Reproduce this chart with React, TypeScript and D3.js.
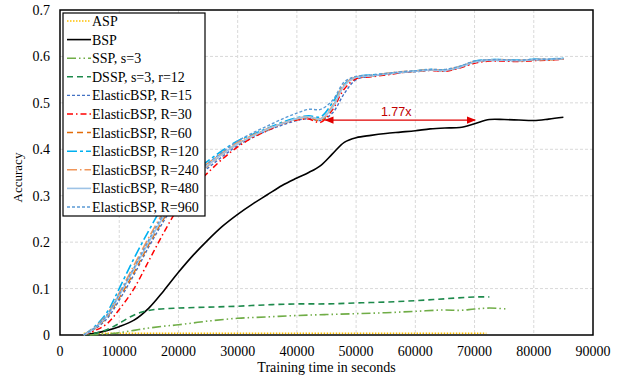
import React from 'react';
import * as d3 from 'd3';

// time axis (seconds) shared by the ElasticBSP and BSP runs
const times = [4000, 6000, 8000, 10000, 12500, 15000, 17500, 20000, 22500, 25000, 27500, 30000, 32500, 35000, 37500, 40000, 42000, 44000, 46000, 48000, 50000, 52500, 55000, 57500, 60000, 62500, 65000, 67500, 70000, 72500, 75000, 77500, 80000, 82500, 85000];

const bsp = [0, 0.004, 0.01, 0.018, 0.032, 0.058, 0.095, 0.135, 0.172, 0.205, 0.235, 0.26, 0.282, 0.302, 0.322, 0.338, 0.35, 0.365, 0.39, 0.415, 0.425, 0.43, 0.434, 0.437, 0.44, 0.444, 0.446, 0.447, 0.455, 0.464, 0.464, 0.463, 0.462, 0.465, 0.469];

const r15 = [0, 0.014, 0.036, 0.075, 0.13, 0.19, 0.245, 0.295, 0.335, 0.36, 0.385, 0.408, 0.425, 0.44, 0.452, 0.462, 0.466, 0.462, 0.478, 0.52, 0.55, 0.557, 0.561, 0.565, 0.567, 0.57, 0.569, 0.576, 0.587, 0.591, 0.591, 0.59, 0.592, 0.593, 0.594];
const r30 = [0, 0.01, 0.025, 0.055, 0.1, 0.16, 0.22, 0.275, 0.32, 0.35, 0.38, 0.405, 0.425, 0.44, 0.455, 0.463, 0.465, 0.458, 0.485, 0.53, 0.552, 0.556, 0.56, 0.565, 0.568, 0.57, 0.568, 0.575, 0.585, 0.59, 0.59, 0.589, 0.591, 0.592, 0.594];
const r60 = [0, 0.015, 0.04, 0.08, 0.135, 0.195, 0.25, 0.3, 0.34, 0.365, 0.39, 0.412, 0.428, 0.442, 0.455, 0.465, 0.469, 0.462, 0.49, 0.538, 0.555, 0.558, 0.562, 0.566, 0.568, 0.571, 0.57, 0.577, 0.588, 0.592, 0.592, 0.591, 0.593, 0.593, 0.595];
const r120 = [0, 0.02, 0.05, 0.1, 0.165, 0.225, 0.28, 0.32, 0.35, 0.375, 0.398, 0.418, 0.432, 0.445, 0.458, 0.468, 0.472, 0.47, 0.5, 0.54, 0.556, 0.56, 0.563, 0.566, 0.569, 0.572, 0.571, 0.578, 0.59, 0.593, 0.593, 0.592, 0.594, 0.594, 0.596];
const r240 = [0, 0.018, 0.045, 0.09, 0.15, 0.21, 0.265, 0.31, 0.345, 0.37, 0.393, 0.415, 0.43, 0.444, 0.456, 0.466, 0.47, 0.466, 0.493, 0.54, 0.556, 0.559, 0.563, 0.567, 0.569, 0.572, 0.571, 0.578, 0.589, 0.592, 0.593, 0.591, 0.593, 0.594, 0.595];
const r480 = [0, 0.016, 0.042, 0.085, 0.142, 0.2, 0.255, 0.302, 0.34, 0.366, 0.39, 0.412, 0.428, 0.443, 0.455, 0.466, 0.47, 0.465, 0.49, 0.537, 0.555, 0.558, 0.562, 0.566, 0.568, 0.571, 0.57, 0.577, 0.588, 0.592, 0.592, 0.591, 0.593, 0.594, 0.595];
const r960 = [0, 0.017, 0.044, 0.088, 0.145, 0.205, 0.26, 0.305, 0.345, 0.37, 0.395, 0.418, 0.435, 0.45, 0.465, 0.478, 0.486, 0.486, 0.505, 0.545, 0.557, 0.56, 0.563, 0.567, 0.569, 0.572, 0.572, 0.579, 0.59, 0.593, 0.593, 0.592, 0.594, 0.594, 0.596];

const aspTimes = [4000, 20000, 40000, 60000, 72000];
const asp = [0.004, 0.004, 0.004, 0.004, 0.004];

const sspTimes = [5000, 7500, 10000, 12500, 15000, 17500, 20000, 25000, 30000, 35000, 40000, 45000, 50000, 55000, 60000, 65000, 67500, 70000, 72500, 75500];
const ssp = [0, 0.002, 0.005, 0.01, 0.015, 0.019, 0.022, 0.03, 0.036, 0.039, 0.042, 0.044, 0.046, 0.048, 0.051, 0.054, 0.053, 0.056, 0.058, 0.056];

const dsspTimes = [4000, 6000, 8000, 10000, 12000, 14000, 16000, 20000, 25000, 30000, 35000, 40000, 45000, 50000, 55000, 60000, 65000, 70000, 72500];
const dssp = [0, 0.004, 0.012, 0.025, 0.04, 0.05, 0.055, 0.058, 0.06, 0.062, 0.065, 0.067, 0.067, 0.069, 0.071, 0.074, 0.078, 0.082, 0.082];

const xTicks = [0, 10000, 20000, 30000, 40000, 50000, 60000, 70000, 80000, 90000];
const yTicks = [0, 0.1, 0.2, 0.3, 0.4, 0.5, 0.6, 0.7];

const speedup = { label: '1.77x', from: 44800, to: 70100, y: 0.463 };

const series = [
  { name: 'ASP', x: aspTimes, y: asp, color: '#ffc000', dash: '1.5,1.5', width: 1.5 },
  { name: 'BSP', x: times, y: bsp, color: '#000000', dash: null, width: 1.6 },
  { name: 'SSP, s=3', x: sspTimes, y: ssp, color: '#70ad47', dash: '9,3,1.5,3,1.5,3', width: 1.6 },
  { name: 'DSSP, s=3, r=12', x: dsspTimes, y: dssp, color: '#1e8a4c', dash: '6,4', width: 1.6 },
  { name: 'ElasticBSP, R=15', x: times, y: r15, color: '#4472c4', dash: '3,2', width: 1.4 },
  { name: 'ElasticBSP, R=30', x: times, y: r30, color: '#ff0000', dash: '6,3,1.5,3', width: 1.5 },
  { name: 'ElasticBSP, R=60', x: times, y: r60, color: '#e36c0a', dash: '6,4', width: 1.5 },
  { name: 'ElasticBSP, R=120', x: times, y: r120, color: '#00b0f0', dash: '10,3,3,3', width: 1.6 },
  { name: 'ElasticBSP, R=240', x: times, y: r240, color: '#f0965a', dash: '10,3,1.5,3', width: 1.6 },
  { name: 'ElasticBSP, R=480', x: times, y: r480, color: '#9dc3e6', dash: null, width: 1.6 },
  { name: 'ElasticBSP, R=960', x: times, y: r960, color: '#5b9bd5', dash: '3,2', width: 1.4 },
];

const W = 626;
const H = 379;
const plot = { left: 60, right: 593, top: 10, bottom: 335 };
const serif = '"Liberation Serif", "Times New Roman", serif';

const App = () => {
  const x = d3.scaleLinear().domain([0, 90000]).range([plot.left, plot.right]);
  const y = d3.scaleLinear().domain([0, 0.7]).range([plot.bottom, plot.top]);

  const line = (xs: number[], ys: number[]) =>
    d3.line<number>()
      .x((_, i) => x(xs[i]))
      .y((d) => y(d))
      .curve(d3.curveCatmullRom.alpha(0.5))(ys) || '';

  const legend = { left: 63, top: 13, right: 205, bottom: 216, row0: 21, step: 18.6 };

  return (
    <svg width={W} height={H} style={{ position: 'absolute', left: 0, top: 0, background: '#fff' }}>
      <defs>
        <marker id="arr" viewBox="0 0 10 10" refX="9" refY="5" markerWidth="7" markerHeight="7" orient="auto-start-reverse">
          <path d="M0,1 L10,5 L0,9 z" fill="#e00000" />
        </marker>
      </defs>
      <rect width={W} height={H} fill="#fff" />

      {/* grid */}
      {xTicks.slice(1, -1).map((t) => (
        <line key={'gx' + t} x1={x(t)} x2={x(t)} y1={plot.top} y2={plot.bottom} stroke="#d9d9d9" strokeDasharray="3,2" />
      ))}
      {yTicks.slice(1, -1).map((t) => (
        <line key={'gy' + t} x1={plot.left} x2={plot.right} y1={y(t)} y2={y(t)} stroke="#d9d9d9" strokeDasharray="3,2" />
      ))}

      {/* frame */}
      <rect x={plot.left} y={plot.top} width={plot.right - plot.left} height={plot.bottom - plot.top} fill="none" stroke="#000" strokeWidth={1.5} />

      {/* series */}
      {series.map((s) => (
        <path key={s.name} d={line(s.x, s.y)} fill="none" stroke={s.color} strokeWidth={s.width}
          strokeDasharray={s.dash || undefined} />
      ))}

      {/* speedup annotation */}
      <line x1={x(speedup.from)} x2={x(speedup.to)} y1={y(speedup.y)} y2={y(speedup.y)} stroke="#e00000" strokeWidth={1.3}
        markerStart="url(#arr)" markerEnd="url(#arr)" />
      <text x={(x(speedup.from) + x(speedup.to)) / 2 - 4} y={y(speedup.y) - 4} textAnchor="middle" fill="#c00000"
        fontFamily='"Liberation Sans", Arial, sans-serif' fontSize={12.5}>{speedup.label}</text>

      {/* ticks */}
      {xTicks.map((t) => (
        <text key={'tx' + t} x={x(t)} y={356} textAnchor="middle" fontFamily={serif} fontSize={14} fill="#000">{t}</text>
      ))}
      {yTicks.map((t) => (
        <text key={'ty' + t} x={50} y={y(t) + 5} textAnchor="end" fontFamily={serif} fontSize={14} fill="#000">{t === 0 ? '0' : t.toFixed(1)}</text>
      ))}
      <text x={(plot.left + plot.right) / 2} y={372} textAnchor="middle" fontFamily={serif} fontSize={14} fill="#000">Training time in seconds</text>
      <text transform={`translate(22,${(plot.top + plot.bottom) / 2 + 5}) rotate(-90)`} textAnchor="middle" fontFamily={serif} fontSize={13} fill="#000">Accuracy</text>

      {/* legend */}
      <rect x={legend.left} y={legend.top} width={legend.right - legend.left} height={legend.bottom - legend.top} fill="#fff" stroke="#000" strokeWidth={1.2} />
      {series.map((s, i) => {
        const cy = legend.row0 + i * legend.step;
        return (
          <g key={'lg' + s.name}>
            <line x1={67} x2={91} y1={cy} y2={cy} stroke={s.color} strokeWidth={s.width} strokeDasharray={s.dash || undefined} />
            <text x={92} y={cy + 5} fontFamily={serif} fontSize={14} fill="#000">{s.name}</text>
          </g>
        );
      })}
    </svg>
  );
};

export default App;
